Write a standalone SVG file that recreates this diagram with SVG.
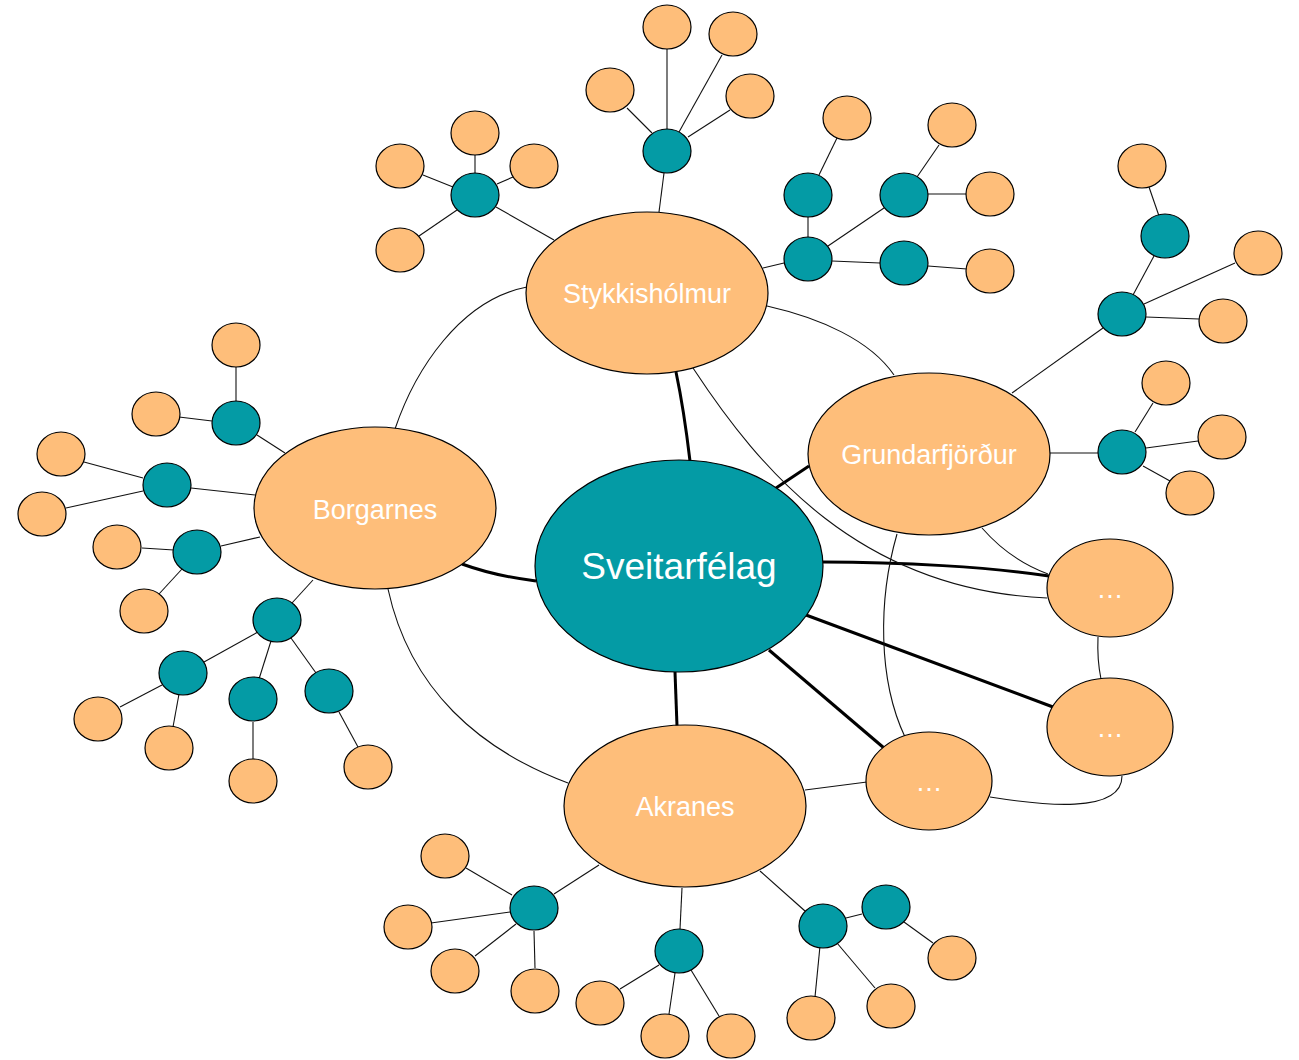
<svg xmlns="http://www.w3.org/2000/svg" width="1299" height="1060" viewBox="0 0 1299 1060">
<style>
.o{fill:#FEBE7A;stroke:#000;stroke-width:1.2}
.t{fill:#049BA5;stroke:#000;stroke-width:1.2}
.l{fill:none;stroke:#111;stroke-width:1.1}
.k{fill:none;stroke:#000;stroke-width:3}
.tx{font-family:"Liberation Sans",Arial,Helvetica,sans-serif;fill:#fff;text-anchor:middle;font-size:27px}
</style>
<rect width="1299" height="1060" fill="#fff"/>
<g id="connectors">
<!-- thick from center -->
<path class="k" d="M690,461 Q684,410 676,372"/>
<path class="k" d="M462,564 Q495,576 536,581"/>
<path class="k" d="M776,488 L809,466"/>
<path class="k" d="M823,562 C900,562 990,567 1049,576"/>
<path class="k" d="M806,615 L1053,707"/>
<path class="k" d="M769,650 L884,748"/>
<path class="k" d="M675,672 L677,726"/>
<!-- thin between main nodes -->
<path class="l" d="M527,287 C460,300 415,370 395,429"/>
<path class="l" d="M388,589 C410,690 480,750 568,783"/>
<path class="l" d="M767,306 C820,318 870,340 894,375"/>
<path class="l" d="M693,368 C760,470 860,590 1047,598"/>
<path class="l" d="M982,528 Q1010,560 1048,574"/>
<path class="l" d="M897,534 C878,600 878,680 905,737"/>
<path class="l" d="M1098,637 Q1097,660 1101,679"/>
<path class="l" d="M990,797 C1040,805 1122,815 1122,776"/>
<path class="l" d="M805,790 L867,782"/>
<!-- Borgarnes branches -->
<path class="l" d="M285,453 L257,435"/>
<path class="l" d="M236,367 L236,401"/>
<path class="l" d="M179,417 L212,421"/>
<path class="l" d="M255,495 L191,488"/>
<path class="l" d="M84,462 L143,478"/>
<path class="l" d="M66,508 L143,491"/>
<path class="l" d="M260,537 L221,546"/>
<path class="l" d="M142,548 L174,550"/>
<path class="l" d="M159,594 L182,569"/>
<path class="l" d="M313,580 L292,603"/>
<path class="l" d="M204,662 L258,632"/>
<path class="l" d="M120,707 L162,685"/>
<path class="l" d="M173,727 L179,694"/>
<path class="l" d="M259,679 L271,641"/>
<path class="l" d="M253,722 L253,760"/>
<path class="l" d="M291,638 L316,673"/>
<path class="l" d="M339,712 L358,747"/>
<!-- Stykkisholmur branches -->
<path class="l" d="M496,207 L554,240"/>
<path class="l" d="M475,155 L475,174"/>
<path class="l" d="M423,175 L453,187"/>
<path class="l" d="M513,177 L497,184"/>
<path class="l" d="M419,236 L457,210"/>
<path class="l" d="M664,173 L659,212"/>
<path class="l" d="M667,49 L667,129"/>
<path class="l" d="M722,55 L679,132"/>
<path class="l" d="M730,110 L688,137"/>
<path class="l" d="M627,108 L652,133"/>
<path class="l" d="M763,268 L784,263"/>
<path class="l" d="M808,217 L808,237"/>
<path class="l" d="M837,138 L818,177"/>
<path class="l" d="M828,246 L884,208"/>
<path class="l" d="M939,145 L917,177"/>
<path class="l" d="M928,194 L967,194"/>
<path class="l" d="M832,261 L880,263"/>
<path class="l" d="M928,266 L967,269"/>
<!-- Grundarfjordur branches -->
<path class="l" d="M1012,393 L1103,328"/>
<path class="l" d="M1133,295 L1154,256"/>
<path class="l" d="M1149,187 L1159,216"/>
<path class="l" d="M1144,304 L1235,263"/>
<path class="l" d="M1146,317 L1199,319"/>
<path class="l" d="M1050,453 L1098,453"/>
<path class="l" d="M1153,403 L1135,432"/>
<path class="l" d="M1146,448 L1198,441"/>
<path class="l" d="M1143,466 L1170,481"/>
<!-- Akranes branches -->
<path class="l" d="M554,894 L599,865"/>
<path class="l" d="M466,868 L512,895"/>
<path class="l" d="M431,923 L510,912"/>
<path class="l" d="M475,956 L516,924"/>
<path class="l" d="M534,931 L535,968"/>
<path class="l" d="M682,888 L680,929"/>
<path class="l" d="M620,989 L659,965"/>
<path class="l" d="M669,1014 L675,973"/>
<path class="l" d="M719,1016 L691,970"/>
<path class="l" d="M760,871 L805,911"/>
<path class="l" d="M846,918 L862,914"/>
<path class="l" d="M904,922 L933,943"/>
<path class="l" d="M820,946 L815,997"/>
<path class="l" d="M837,943 L875,988"/>
</g>
<g id="node-sveitarfelag"><ellipse class="t" cx="679" cy="566" rx="144" ry="106"/><text class="tx" x="679" y="579" style="font-size:37px">Sveitarfélag</text></g>
<g id="node-stykkisholmur"><ellipse class="o" cx="647" cy="293" rx="121" ry="81"/><text class="tx" x="647" y="303">Stykkishólmur</text></g>
<g id="node-borgarnes"><ellipse class="o" cx="375" cy="508" rx="121" ry="81"/><text class="tx" x="375" y="519">Borgarnes</text></g>
<g id="node-grundarfjordur"><ellipse class="o" cx="929" cy="454" rx="121" ry="81"/><text class="tx" x="929" y="464">Grundarfjörður</text></g>
<g id="node-akranes"><ellipse class="o" cx="685" cy="806" rx="121" ry="81"/><text class="tx" x="685" y="816">Akranes</text></g>
<g id="node-dots1"><ellipse class="o" cx="1110" cy="588" rx="63" ry="49"/><text class="tx" x="1110" y="598">…</text></g>
<g id="node-dots2"><ellipse class="o" cx="1110" cy="727" rx="63" ry="49"/><text class="tx" x="1110" y="737">…</text></g>
<g id="node-dots3"><ellipse class="o" cx="929" cy="781" rx="63" ry="49"/><text class="tx" x="929" y="791">…</text></g>
<!-- Borgarnes sub -->
<g id="b-t1"><ellipse class="t" cx="236" cy="423" rx="24" ry="22"/></g>
<g id="b-o1"><ellipse class="o" cx="236" cy="345" rx="24" ry="22"/></g>
<g id="b-o2"><ellipse class="o" cx="156" cy="414" rx="24" ry="22"/></g>
<g id="b-t2"><ellipse class="t" cx="167" cy="485" rx="24" ry="22"/></g>
<g id="b-o3"><ellipse class="o" cx="61" cy="454" rx="24" ry="22"/></g>
<g id="b-o4"><ellipse class="o" cx="42" cy="514" rx="24" ry="22"/></g>
<g id="b-t3"><ellipse class="t" cx="197" cy="552" rx="24" ry="22"/></g>
<g id="b-o5"><ellipse class="o" cx="117" cy="547" rx="24" ry="22"/></g>
<g id="b-o6"><ellipse class="o" cx="144" cy="611" rx="24" ry="22"/></g>
<g id="b-t4"><ellipse class="t" cx="277" cy="620" rx="24" ry="22"/></g>
<g id="b-t4a"><ellipse class="t" cx="183" cy="673" rx="24" ry="22"/></g>
<g id="b-o7"><ellipse class="o" cx="98" cy="719" rx="24" ry="22"/></g>
<g id="b-o8"><ellipse class="o" cx="169" cy="748" rx="24" ry="22"/></g>
<g id="b-t4b"><ellipse class="t" cx="253" cy="699" rx="24" ry="22"/></g>
<g id="b-o9"><ellipse class="o" cx="253" cy="781" rx="24" ry="22"/></g>
<g id="b-t4c"><ellipse class="t" cx="329" cy="691" rx="24" ry="22"/></g>
<g id="b-o10"><ellipse class="o" cx="368" cy="767" rx="24" ry="22"/></g>
<!-- Stykkisholmur sub -->
<g id="s-t1"><ellipse class="t" cx="475" cy="195" rx="24" ry="22"/></g>
<g id="s-o1"><ellipse class="o" cx="475" cy="133" rx="24" ry="22"/></g>
<g id="s-o2"><ellipse class="o" cx="400" cy="166" rx="24" ry="22"/></g>
<g id="s-o3"><ellipse class="o" cx="534" cy="166" rx="24" ry="22"/></g>
<g id="s-o4"><ellipse class="o" cx="400" cy="250" rx="24" ry="22"/></g>
<g id="s-t2"><ellipse class="t" cx="667" cy="151" rx="24" ry="22"/></g>
<g id="s-o5"><ellipse class="o" cx="667" cy="27" rx="24" ry="22"/></g>
<g id="s-o6"><ellipse class="o" cx="733" cy="34" rx="24" ry="22"/></g>
<g id="s-o7"><ellipse class="o" cx="750" cy="96" rx="24" ry="22"/></g>
<g id="s-o8"><ellipse class="o" cx="610" cy="90" rx="24" ry="22"/></g>
<g id="s-ta"><ellipse class="t" cx="808" cy="195" rx="24" ry="22"/></g>
<g id="s-o9"><ellipse class="o" cx="847" cy="118" rx="24" ry="22"/></g>
<g id="s-tb"><ellipse class="t" cx="808" cy="259" rx="24" ry="22"/></g>
<g id="s-tc"><ellipse class="t" cx="904" cy="195" rx="24" ry="22"/></g>
<g id="s-o10"><ellipse class="o" cx="952" cy="125" rx="24" ry="22"/></g>
<g id="s-o11"><ellipse class="o" cx="990" cy="194" rx="24" ry="22"/></g>
<g id="s-td"><ellipse class="t" cx="904" cy="263" rx="24" ry="22"/></g>
<g id="s-o12"><ellipse class="o" cx="990" cy="271" rx="24" ry="22"/></g>
<!-- Grundarfjordur sub -->
<g id="g-te"><ellipse class="t" cx="1122" cy="314" rx="24" ry="22"/></g>
<g id="g-tf"><ellipse class="t" cx="1165" cy="236" rx="24" ry="22"/></g>
<g id="g-o1"><ellipse class="o" cx="1142" cy="166" rx="24" ry="22"/></g>
<g id="g-o2"><ellipse class="o" cx="1258" cy="253" rx="24" ry="22"/></g>
<g id="g-o3"><ellipse class="o" cx="1223" cy="321" rx="24" ry="22"/></g>
<g id="g-tg"><ellipse class="t" cx="1122" cy="452" rx="24" ry="22"/></g>
<g id="g-o4"><ellipse class="o" cx="1166" cy="383" rx="24" ry="22"/></g>
<g id="g-o5"><ellipse class="o" cx="1222" cy="437" rx="24" ry="22"/></g>
<g id="g-o6"><ellipse class="o" cx="1190" cy="493" rx="24" ry="22"/></g>
<!-- Akranes sub -->
<g id="a-t1"><ellipse class="t" cx="534" cy="908" rx="24" ry="22"/></g>
<g id="a-o1"><ellipse class="o" cx="445" cy="856" rx="24" ry="22"/></g>
<g id="a-o2"><ellipse class="o" cx="408" cy="927" rx="24" ry="22"/></g>
<g id="a-o3"><ellipse class="o" cx="455" cy="971" rx="24" ry="22"/></g>
<g id="a-o4"><ellipse class="o" cx="535" cy="991" rx="24" ry="22"/></g>
<g id="a-t2"><ellipse class="t" cx="679" cy="951" rx="24" ry="22"/></g>
<g id="a-o5"><ellipse class="o" cx="600" cy="1003" rx="24" ry="22"/></g>
<g id="a-o6"><ellipse class="o" cx="665" cy="1036" rx="24" ry="22"/></g>
<g id="a-o7"><ellipse class="o" cx="731" cy="1036" rx="24" ry="22"/></g>
<g id="a-t3"><ellipse class="t" cx="823" cy="926" rx="24" ry="22"/></g>
<g id="a-t4"><ellipse class="t" cx="886" cy="907" rx="24" ry="22"/></g>
<g id="a-o8"><ellipse class="o" cx="952" cy="958" rx="24" ry="22"/></g>
<g id="a-o9"><ellipse class="o" cx="811" cy="1018" rx="24" ry="22"/></g>
<g id="a-o10"><ellipse class="o" cx="891" cy="1006" rx="24" ry="22"/></g>
</svg>
